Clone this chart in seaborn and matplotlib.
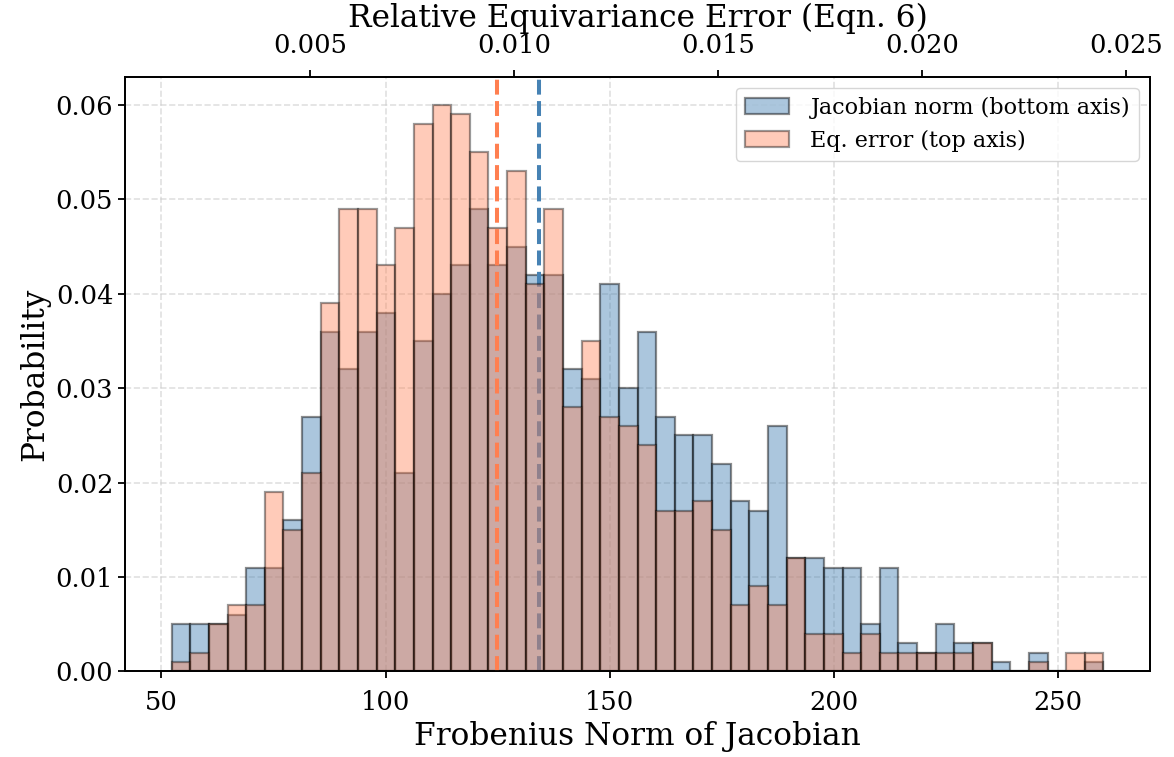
import numpy as np
import pandas as pd
import matplotlib
matplotlib.use("Agg")
import matplotlib.pyplot as plt
import seaborn as sns

# ---- data ----
n_bins = 50
jac_range = (52.3, 260.1)           # Frobenius norm of Jacobian, bottom axis
err_range = (0.001608, 0.024446)    # relative equivariance error, top axis

jac_prob = [0.005, 0.005, 0.005, 0.006, 0.011, 0.011, 0.016, 0.027, 0.036, 0.032,
            0.036, 0.038, 0.021, 0.035, 0.040, 0.043, 0.049, 0.043, 0.045, 0.042,
            0.042, 0.032, 0.031, 0.041, 0.030, 0.036, 0.027, 0.025, 0.025, 0.022,
            0.018, 0.017, 0.026, 0.012, 0.012, 0.011, 0.011, 0.005, 0.011, 0.003,
            0.002, 0.005, 0.003, 0.003, 0.001, 0.000, 0.002, 0.000, 0.000, 0.001]
err_prob = [0.001, 0.002, 0.005, 0.007, 0.007, 0.019, 0.015, 0.021, 0.039, 0.049,
            0.049, 0.043, 0.047, 0.058, 0.060, 0.059, 0.055, 0.047, 0.053, 0.041,
            0.049, 0.028, 0.035, 0.027, 0.026, 0.024, 0.017, 0.017, 0.018, 0.015,
            0.007, 0.009, 0.007, 0.012, 0.004, 0.004, 0.002, 0.004, 0.002, 0.002,
            0.002, 0.002, 0.002, 0.003, 0.000, 0.000, 0.001, 0.000, 0.002, 0.002]
jac_mean = 134.2
err_mean = 0.00959

labels = ["Jacobian norm (bottom axis)", "Eq. error (top axis)"]
xlabel_bottom = "Frobenius Norm of Jacobian"
xlabel_top = "Relative Equivariance Error (Eqn. 6)"
ylabel = "Probability"

# ---- build tables ----
jac_edges = np.linspace(*jac_range, n_bins + 1)
err_edges = np.linspace(*err_range, n_bins + 1)
df_jac = pd.DataFrame({"x": (jac_edges[:-1] + jac_edges[1:]) / 2, "w": jac_prob})
df_err = pd.DataFrame({"x": (err_edges[:-1] + err_edges[1:]) / 2, "w": err_prob})

sns.set_theme(style="ticks")
plt.rcParams["font.family"] = ["DejaVu Serif"]
plt.rcParams["text.color"] = "black"
plt.rcParams["axes.labelcolor"] = "black"
plt.rcParams["xtick.color"] = "black"
plt.rcParams["ytick.color"] = "black"
plt.rcParams["axes.edgecolor"] = "black"
plt.rcParams["axes.linewidth"] = 1.3
plt.rcParams["xtick.major.width"] = 1.3
plt.rcParams["ytick.major.width"] = 1.3
plt.rcParams["xtick.major.size"] = 5
plt.rcParams["ytick.major.size"] = 5

fig = plt.figure(figsize=(11.74, 7.57), dpi=100)
ax1 = fig.add_axes([0.1065, 0.1131, 0.8731, 0.7856])
ax2 = ax1.twiny()

blue = "#4682B4"
orange = "#FF7F50"

sns.histplot(data=df_jac, x="x", weights="w", bins=jac_edges.tolist(), stat="count",
             color=blue, alpha=0.45, edgecolor=(0, 0, 0, 0.45), linewidth=1.6, ax=ax1)
ax1.axvline(jac_mean, color=blue, ls="--", lw=2.9)

sns.histplot(data=df_err, x="x", weights="w", bins=err_edges.tolist(), stat="count",
             color=orange, alpha=0.4, edgecolor=(0, 0, 0, 0.4), linewidth=1.6, ax=ax2)
ax2.axvline(err_mean, color=orange, ls="--", lw=2.9)

ax1.set_ylim(0, 0.063)
ax1.set_yticks([0.0, 0.01, 0.02, 0.03, 0.04, 0.05, 0.06])
ax1.set_xticks([50, 100, 150, 200, 250])
ax2.set_xticks([0.005, 0.010, 0.015, 0.020, 0.025])
ax2.set_xticklabels(["0.005", "0.010", "0.015", "0.020", "0.025"])
ax1.set_yticklabels(["0.00", "0.01", "0.02", "0.03", "0.04", "0.05", "0.06"])

ax1.grid(True, ls="--", color="#cccccc", alpha=0.6, lw=1.2)
ax1.set_axisbelow(True)

ax1.set_xlabel(xlabel_bottom, fontsize=22.5)
ax1.set_ylabel(ylabel, fontsize=22.5)
ax2.set_xlabel(xlabel_top, fontsize=22.5)
ax1.tick_params(axis="y", labelsize=18.5)
ax1.tick_params(axis="x", labelsize=18.5, pad=8.5)
ax2.tick_params(axis="x", labelsize=18.5, pad=8.5)

h1 = ax1.patches[0]
h2 = ax2.patches[0]
ax2.legend([h1, h2], labels, loc="upper right", fontsize=16, framealpha=0.8,
           edgecolor="#cccccc", handlelength=2.0, handletextpad=0.95)

for sp in ax2.spines.values():
    sp.set_color("black")

fig.savefig("out.png", dpi=100)
